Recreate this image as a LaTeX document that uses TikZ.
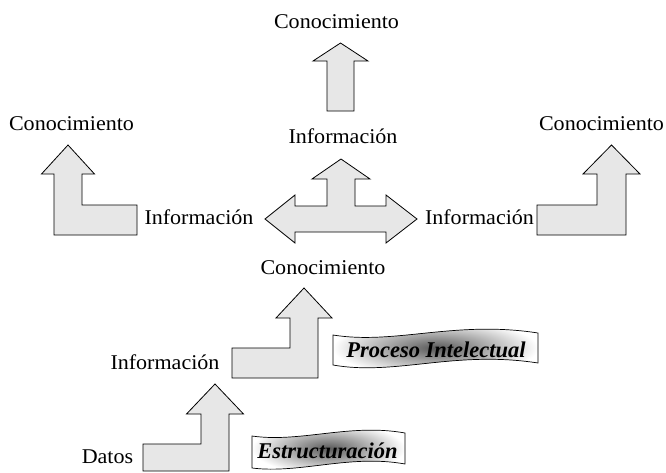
\documentclass[tikz,border=0pt]{standalone}
\usepackage{fontspec}
\setmainfont{Liberation Serif}
\usepackage{graphicx}
\definecolor{arrowfill}{RGB}{231,231,231}
\newcommand\hsc[1]{\scalebox{1.05}[1]{#1}}
\begin{document}
\begin{tikzpicture}[x=1pt,y=-1pt,
  lbl/.style={anchor=base, inner sep=0pt, font=\fontsize{21}{24}\selectfont},
  blockarrow/.style={draw=black, line width=0.8pt, fill=arrowfill, line join=miter},
  banner/.style={draw=black, line width=0.7pt, inner color=black!65, outer color=white},
  bantext/.style={anchor=base, inner sep=0pt, font=\fontsize{22.5}{26}\selectfont\bfseries\itshape}]
\useasboundingbox[fill=white] (0,0) rectangle (666,472);

% block arrows
\path[blockarrow] (327,111) -- (327,61) -- (313,61) -- (340.5,43) -- (368,61) -- (354,61) -- (354,111) -- cycle;
\path[blockarrow] (54,235) -- (54,174) -- (41.5,174) -- (68,145) -- (94.5,174) -- (82,174) -- (82,205) -- (137,205) -- (137,235) -- cycle;
\path[blockarrow] (537,235) -- (537,205) -- (597,205) -- (597,174) -- (583,174) -- (611.5,145) -- (640,174) -- (626,174) -- (626,235) -- cycle;
\path[blockarrow] (265,219) -- (295,195) -- (295,206) -- (327,206) -- (327,179) -- (312,179) -- (341,159) -- (370,179) -- (355,179) -- (355,206) -- (386,206) -- (386,195) -- (417,219) -- (386,243) -- (386,232) -- (295,232) -- (295,243) -- cycle;
\path[blockarrow] (232,378) -- (232,348) -- (290,348) -- (290,318) -- (276,318) -- (304,288) -- (332,318) -- (318,318) -- (318,378) -- cycle;
\path[blockarrow] (143,471) -- (143,444) -- (201,444) -- (201,414) -- (186.5,414) -- (215,384) -- (243.5,414) -- (229,414) -- (229,471) -- cycle;

% wave banners
\path[banner] (333,335) .. controls (395,345) and (455,320) .. (538,333) -- (538,363) .. controls (455,350) and (395,376) .. (333,365) -- cycle;
\path[banner] (252,436) .. controls (300,443) and (350,423) .. (405,433) -- (405,464) .. controls (350,454) and (300,474) .. (252,468) -- cycle;

% labels
\node[lbl] (c1) at (336.5,28) {\hsc{Conocimiento}};
\node[lbl] (c2) at (71.5,130) {\hsc{Conocimiento}};
\node[lbl] (c3) at (601.5,130) {\hsc{Conocimiento}};
\node[lbl] (i1) at (343,143) {\hsc{Información}};
\node[lbl] (i2) at (199,224) {\hsc{Información}};
\node[lbl] (i3) at (479.5,224) {\hsc{Información}};
\node[lbl] (c4) at (323,274) {\hsc{Conocimiento}};
\node[lbl] (i4) at (165,369) {\hsc{Información}};
\node[lbl] (d1) at (107.5,463) {\hsc{Datos}};
\node[bantext] (p1) at (436,357.5) {Proceso Intelectual};
\node[bantext] (e1) at (327.5,458.5) {Estructuración};
\end{tikzpicture}
\end{document}
